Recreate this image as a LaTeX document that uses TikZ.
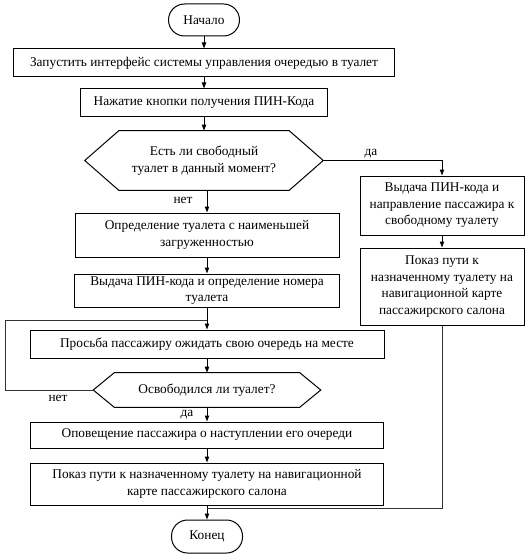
\documentclass[tikz,border=0pt]{standalone}
\usepackage{fontspec}
\setmainfont{Liberation Serif}
\usetikzlibrary{arrows.meta}
\begin{document}
\begin{tikzpicture}[x=0.75pt,y=-0.75pt,
  txt/.style={font=\rmfamily\fontsize{10}{12.4}\selectfont},
  box/.style={txt, draw, line width=0.75pt, inner sep=1pt, align=center},
  term/.style={box, rounded corners=12pt},
  hexbox/.style={txt, draw=none, inner sep=0pt, align=center},
  hexline/.style={line width=0.75pt},
  arr/.style={line width=0.75pt, -{Triangle[length=4.5pt,width=3.2pt]}},
  ln/.style={line width=0.75pt, black!80},
  lbl/.style={txt, inner sep=0pt}]
\useasboundingbox (0,0) rectangle (531,556);

\node[term, minimum width=53.25pt, minimum height=24pt] (start) at (204,20) {Начало};
\node[box, minimum width=285.75pt, minimum height=21pt] (b1) at (204,63) {Запустить интерфейс системы управления очередью в туалет};
\node[box, minimum width=185.25pt, minimum height=21pt] (b2) at (204,103) {Нажатие кнопки получения ПИН-Кода};
\node[hexbox, minimum width=178.5pt, minimum height=44.25pt] (h1) at (204,160.5) {Есть ли свободный\\туалет в данный момент?};
\draw[hexline] (h1.west) -- ([xshift=25.5pt]h1.north west) -- ([xshift=-25.5pt]h1.north east) -- (h1.east) -- ([xshift=-25.5pt]h1.south east) -- ([xshift=25.5pt]h1.south west) -- cycle;

\node[box, minimum width=123pt, minimum height=44.25pt] (r1) at (442,205.5) {Выдача ПИН-кода и\\направление пассажира к\\свободному туалету};
\node[box, minimum width=123pt, minimum height=57.75pt] (r2) at (442,286.5) {Показ пути к\\назначенному туалету на\\навигационной карте\\пассажирского салона};

\node[box, minimum width=198pt, minimum height=33pt] (b3) at (207,235) {Определение туалета с наименьшей\\загруженностью};
\node[box, minimum width=198.75pt, minimum height=24.75pt] (b4) at (207,290.5) {Выдача ПИН-кода и определение номера\\туалета};
\node[box, minimum width=265.5pt, minimum height=21pt] (b5) at (207,344) {Просьба пассажиру ожидать свою очередь на месте};
\node[hexbox, minimum width=170.25pt, minimum height=25.5pt] (h2) at (207,390) {Освободился ли туалет?};
\draw[hexline] (h2.west) -- ([xshift=15.75pt]h2.north west) -- ([xshift=-15.75pt]h2.north east) -- (h2.east) -- ([xshift=-15.75pt]h2.south east) -- ([xshift=15.75pt]h2.south west) -- cycle;
\node[box, minimum width=264.75pt, minimum height=19.5pt] (b6) at (207,435) {Оповещение пассажира о наступлении его очереди};
\node[box, minimum width=264.75pt, minimum height=31.5pt] (b7) at (207,484) {Показ пути к назначенному туалету на навигационной\\карте пассажирского салона};
\node[term, minimum width=53.25pt, minimum height=24.75pt] (end) at (207,536.5) {Конец};

\coordinate (jn) at (207,320);
\coordinate (lp) at (5,320);
\coordinate (jn2) at (207,508);

\draw[arr] (start) -- (b1);
\draw[arr] (b1) -- (b2);
\draw[arr] (b2) -- (h1.north);
\draw[arr] (h1.east) -| (r1.north);
\node[lbl] (yes1) at (371,154) {да};
\draw[arr] (b3.north |- h1.south) -- (b3.north);
\node[lbl] (no1) at (183,200) {нет};
\draw[arr] (b3) -- (b4);
\draw[arr] (b4) -- (b5);
\draw[ln] (h2.west) -| (lp) -- (jn);
\node[lbl] (no2) at (58,398) {нет};
\draw[arr] (b5) -- (h2.north);
\draw[arr] (h2.south) -- (b6);
\node[lbl] (yes2) at (187,415) {да};
\draw[arr] (b6) -- (b7);
\draw[arr] (b7) -- (end);
\draw[arr] (r1) -- (r2);
\draw[ln] (r2.south) |- (jn2);
\end{tikzpicture}
\end{document}
